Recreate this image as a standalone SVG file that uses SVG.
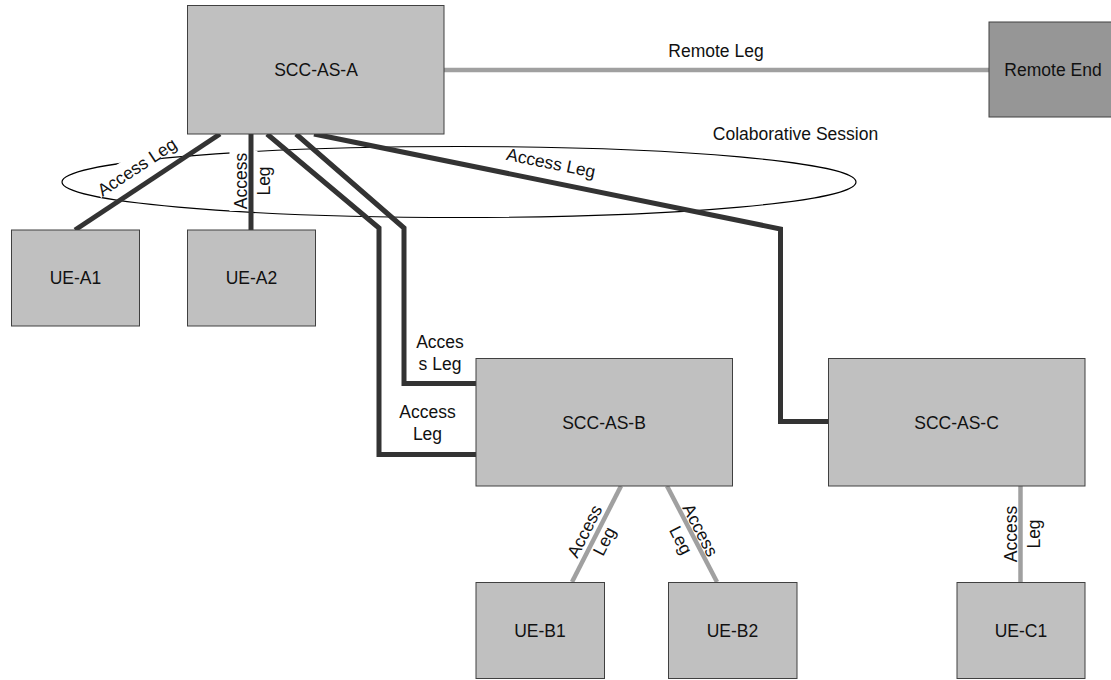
<svg xmlns="http://www.w3.org/2000/svg" width="1111" height="680" viewBox="0 0 1111 680">
<style>
.node{fill:#c0c0c0;stroke:#404040;stroke-width:1}
.remote{fill:#969696;stroke:#404040;stroke-width:1}
.t{font-family:"Liberation Sans",Arial,sans-serif;font-size:17.5px;fill:#111;text-anchor:middle}
.dark{fill:none;stroke:#333333;stroke-width:5;stroke-linejoin:miter}
.light{fill:none;stroke:#a0a0a0;stroke-width:4.5}
.bg{fill:#ffffff}
</style>
<rect width="1111" height="680" fill="#ffffff"/>
<ellipse id="session" cx="459" cy="182" rx="397" ry="35.5" fill="none" stroke="#000" stroke-width="1.2"/>
<text class="t" x="795.5" y="140">Colaborative Session</text>
<g id="labels">
<g transform="translate(137,167) rotate(-33.5)"><rect class="bg" x="-47" y="-13" width="94" height="19"/><text class="t" x="0" y="6">Access Leg</text></g>
<g transform="translate(251.5,181) rotate(-90)"><rect class="bg" x="-30" y="-6" width="60" height="12"/><rect class="bg" x="-30" y="-22" width="60" height="17"/><rect class="bg" x="-17" y="3" width="34" height="17"/><text class="t" x="0" y="-4.5">Access<tspan x="0" dy="22.5">Leg</tspan></text></g>
<g transform="translate(551,163) rotate(11.5)"><text class="t" x="0" y="6">Access Leg</text></g>
<text class="t" x="716" y="57">Remote Leg</text>
<text class="t" x="440" y="348">Acces<tspan x="440" dy="22">s Leg</tspan></text>
<text class="t" x="427.5" y="418">Access<tspan x="427.5" dy="22">Leg</tspan></text>
<g transform="translate(594,536) rotate(-63)"><text class="t" x="0" y="-4.5">Access<tspan x="0" dy="22">Leg</tspan></text></g>
<g transform="translate(691,535) rotate(62.7)"><text class="t" x="0" y="-4.5">Access<tspan x="0" dy="22">Leg</tspan></text></g>
<g transform="translate(1021,534) rotate(-90)"><text class="t" x="0" y="-4.5">Access<tspan x="0" dy="23">Leg</tspan></text></g>
</g>
<g id="connectors">
<line class="light" x1="444" y1="70" x2="989" y2="70"/>
<line class="dark" x1="220" y1="134" x2="75" y2="230"/>
<line class="dark" x1="251" y1="134" x2="251" y2="230"/>
<polyline class="dark" points="267,134 379,228 379,454.5 476,454.5"/>
<polyline class="dark" points="296,134 404,228 404,383.5 476,383.5"/>
<polyline class="dark" points="314,134 780.5,229 780.5,421.5 828,421.5"/>
<line class="light" x1="621" y1="486" x2="572" y2="582"/>
<line class="light" x1="667" y1="486" x2="717" y2="582"/>
<line class="light" x1="1020.5" y1="486" x2="1020.5" y2="582"/>
</g>
<g id="scc-as-a"><rect class="node" x="187.5" y="5.5" width="256.5" height="128.5"/><text class="t" x="316" y="75.5">SCC-AS-A</text></g>
<g id="remote-end"><rect class="remote" x="989" y="22" width="128" height="95"/><text class="t" x="1053" y="75.5">Remote End</text></g>
<g id="ue-a1"><rect class="node" x="11.5" y="230" width="128" height="96"/><text class="t" x="75.5" y="284">UE-A1</text></g>
<g id="ue-a2"><rect class="node" x="187.5" y="230" width="128" height="96"/><text class="t" x="251.5" y="284">UE-A2</text></g>
<g id="scc-as-b"><rect class="node" x="476" y="358.5" width="256.5" height="127.5"/><text class="t" x="604" y="428.5">SCC-AS-B</text></g>
<g id="scc-as-c"><rect class="node" x="828.5" y="358.5" width="256.5" height="127.5"/><text class="t" x="956.5" y="428.5">SCC-AS-C</text></g>
<g id="ue-b1"><rect class="node" x="476" y="582.5" width="128.5" height="96"/><text class="t" x="540" y="637">UE-B1</text></g>
<g id="ue-b2"><rect class="node" x="668.5" y="582.5" width="128.5" height="96"/><text class="t" x="732.5" y="637">UE-B2</text></g>
<g id="ue-c1"><rect class="node" x="957" y="582.5" width="128" height="96"/><text class="t" x="1021" y="637">UE-C1</text></g>
</svg>
